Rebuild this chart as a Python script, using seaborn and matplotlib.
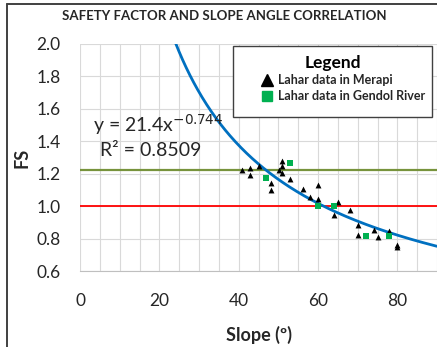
import numpy as np
import pandas as pd
import matplotlib
matplotlib.use("Agg")
import matplotlib.pyplot as plt
from matplotlib.lines import Line2D
from matplotlib.patches import Rectangle
import seaborn as sns

# Lahar data
merapi_slope = [40.9, 42.9, 42.9, 45.0, 48.1, 48.1, 50.1, 50.9, 50.9, 50.9, 53.0, 56.1,
                58.1, 59.9, 59.9, 64.0, 65.0, 68.0, 70.0, 70.0, 74.1, 75.1, 77.9, 80.0, 80.0]
merapi_fs = [1.22, 1.236, 1.19, 1.25, 1.14, 1.10, 1.225, 1.28, 1.245, 1.205, 1.17, 1.105,
             1.057, 1.13, 1.045, 0.948, 1.023, 0.974, 0.886, 0.824, 0.85, 0.807, 0.844, 0.762, 0.75]
gendol_slope = [47.0, 52.9, 59.9, 64.0, 72.0, 77.9]
gendol_fs = [1.174, 1.267, 1.0, 1.003, 0.818, 0.814]

# power trendline shown on the chart: y = 21.4 x^-0.744
fit_a = 21.4
fit_b = -0.744
fs_limit_red = 1.0
fs_limit_green = 1.22

x_ticks = [0, 20, 40, 60, 80]
y_ticks = [0.6, 0.8, 1.0, 1.2, 1.4, 1.6, 1.8, 2.0]

sns.set_style("white")
plt.rcParams["font.family"] = ["Lato", "DejaVu Sans"]

df = pd.concat([
    pd.DataFrame({"Slope": merapi_slope, "FS": merapi_fs, "Source": "Lahar data in Merapi"}),
    pd.DataFrame({"Slope": gendol_slope, "FS": gendol_fs, "Source": "Lahar data in Gendol River"}),
])

W, H = 437, 347
fig = plt.figure(figsize=(W / 100, H / 100), dpi=100)
ax = fig.add_axes([80 / W, 1 - 271 / H, 357 / W, 227 / H])

# grid: vertical every 5, horizontal every 0.2
for xv in np.arange(0, 91, 5):
    ax.axvline(xv, color="#D9D9D9", lw=0.8, zorder=0)
for yv in y_ticks:
    ax.axhline(yv, color="#D9D9D9", lw=0.8, zorder=0)

ax.axhline(fs_limit_green, color="#77933C", lw=1.6, zorder=1)
ax.axhline(fs_limit_red, color="#FF0000", lw=1.3, zorder=1)

trend_x = np.linspace(20, 90, 300)
trend = pd.DataFrame({"x": trend_x, "y": fit_a * trend_x ** fit_b})
sns.lineplot(data=trend, x="x", y="y", ax=ax, color="#0070C0", lw=2.0, zorder=2)

sns.scatterplot(data=df[df.Source == "Lahar data in Merapi"], x="Slope", y="FS",
                color="black", marker="^", s=18, linewidth=0, ax=ax, legend=False, zorder=3)
sns.scatterplot(data=df[df.Source == "Lahar data in Gendol River"], x="Slope", y="FS",
                color="#00B050", marker="s", s=14, linewidth=0, ax=ax, legend=False, zorder=3)

ax.set_xlim(0, 90)
ax.set_ylim(0.6, 2.0)
ax.set_xticks(x_ticks)
ax.set_yticks(y_ticks)
ax.set_yticklabels([f"{v:.1f}" for v in y_ticks])
ax.tick_params(axis="both", labelsize=12.5, colors="#BFBFBF", labelcolor="#262626",
               length=6, width=0.8, direction="out")
ax.tick_params(axis="y", pad=8)
ax.tick_params(axis="x", pad=10)
for side in ["top", "right", "left"]:
    ax.spines[side].set_visible(False)
ax.spines["bottom"].set_color("#BFBFBF")

ax.set_xlabel("Slope (º)", fontsize=13, fontweight="bold", labelpad=12)
ax.set_ylabel("FS", fontsize=13, fontweight="bold", labelpad=4)

ax.text(3.3, 1.503, "y = 21.4x$^{-0.744}$", fontsize=14, color="#262626", va="center")
ax.text(5.0, 1.343, "R² = 0.8509", fontsize=14, color="#262626", va="center")

# legend box drawn like the Excel one: framed box, centred title, entries
fig.patches.append(Rectangle((233 / W, 1 - 117 / H), 199 / W, 71 / H, transform=fig.transFigure,
                             facecolor="white", edgecolor="#404040", lw=1.0, zorder=5))
fig.text(333 / W, 1 - 63 / H, "Legend", fontsize=12.5, fontweight="bold",
         ha="center", va="center", color="black", zorder=6)
handles = [
    Line2D([], [], marker="^", color="black", ls="none", markersize=8),
    Line2D([], [], marker="s", color="#00B050", ls="none", markersize=7.5),
]
leg = fig.legend(handles, ["Lahar data in Merapi", "Lahar data in Gendol River"],
                 loc="upper left", bbox_to_anchor=(259 / W, 1 - 74 / H),
                 fontsize=9, frameon=False, handletextpad=0.3, borderpad=0.0,
                 labelspacing=0.35, handlelength=1.2, borderaxespad=0)
leg.set_zorder(7)
for t in leg.get_texts():
    t.set_fontweight("bold")

fig.text(224 / W, 1 - 16 / H, "SAFETY FACTOR AND SLOPE ANGLE CORRELATION",
         ha="center", va="center", fontsize=9.5, fontweight="bold", color="#262626")

# outer chart border (visible on left and top only)
fig.add_artist(Line2D([7 / W, 7 / W], [0, 1 - 4 / H], transform=fig.transFigure,
                      color="#404040", lw=1.4))
fig.add_artist(Line2D([7 / W, 1], [1 - 4 / H, 1 - 4 / H], transform=fig.transFigure,
                      color="#404040", lw=1.4))

fig.savefig("out.png", dpi=100)
